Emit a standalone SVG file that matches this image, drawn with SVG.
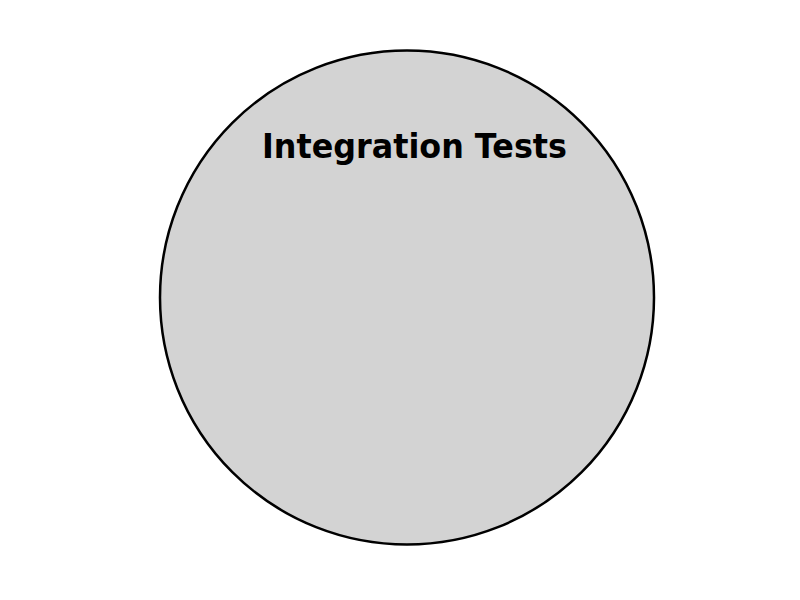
<svg xmlns="http://www.w3.org/2000/svg" width="800" height="600" viewBox="0 0 800 600">
<style>
.node{fill:#d3d3d3;stroke:#000;stroke-width:2.5}
.label{font-family:"DejaVu Sans","Liberation Sans",sans-serif;font-weight:bold;font-size:34px;fill:#000}
</style>
<rect width="800" height="600" fill="#fff"/>
<g id="integration-tests">
<ellipse class="node" cx="407" cy="297.5" rx="247" ry="247"/>
<text class="label" x="414.5" y="158" text-anchor="middle" textLength="305" lengthAdjust="spacingAndGlyphs">Integration Tests</text>
</g>
<g id="connectors"/>
</svg>
